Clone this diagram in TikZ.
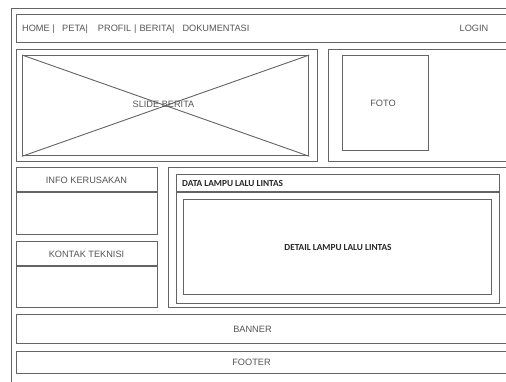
\documentclass[tikz,border=0pt]{standalone}
\usepackage{fontspec}
\setmainfont{Liberation Sans}
\newfontfamily\carl{Carlito}
\definecolor{ln}{RGB}{100,100,100}
\definecolor{tx}{RGB}{85,85,85}
\definecolor{dk}{RGB}{40,40,40}
\tikzset{
  box/.style={draw=ln, line width=1.3pt, inner sep=0pt, anchor=north west},
  lbl/.style={inner sep=0pt, text=tx, font=\fontsize{9.2}{10}\selectfont},
  dlbl/.style={inner sep=0pt, text=dk, font=\carl\bfseries\fontsize{9.3}{10}\selectfont},
}
\newcommand{\bx}[5]{\node[box, minimum width={(#4-#2)*1pt}, minimum height={(#5-#3)*1pt}] (#1) at (#2,#3) {};}
\begin{document}
\begin{tikzpicture}[x=1pt,y=-1pt]
\clip (0,0) rectangle (506,381);
\fill[white] (0,0) rectangle (506,381);
% outer frame
\bx{frame}{10.5}{7.5}{530}{395}
% header
\bx{hdr}{16}{14}{530}{42}
\node[lbl, anchor=base west] (menu) at (22,31) {HOME |\hspace{7.5pt}PETA|\hspace{10pt}PROFIL\hspace{3pt}|\hspace{3pt}BERITA|\hspace{8pt}DOKUMENTASI};
\node[lbl, anchor=base] (login) at (474,31.3) {LOGIN};
% slide
\bx{slideo}{16}{49}{317}{161}
\bx{slidei}{22}{55}{308}{155}
\draw[ln, line width=0.9pt] (slidei.north west) -- (slidei.south east);
\draw[ln, line width=0.9pt] (slidei.south west) -- (slidei.north east);
\node[lbl] (slide) at (163.5,104.5) {SLIDE BERITA};
% foto
\bx{fotoo}{328}{49}{530}{161}
\bx{fotoi}{341.5}{55}{428}{150}
\node[lbl] (foto) at (383,103) {FOTO};
% info kerusakan
\bx{info}{16}{167}{157}{234}
\draw[ln, line width=1.3pt] (info.west |- 0,192) -- (info.east |- 0,192);
\node[lbl] (infot) at (86.5,180) {INFO KERUSAKAN};
% kontak teknisi
\bx{kontak}{16}{241}{157}{307}
\draw[ln, line width=1.3pt] (kontak.west |- 0,266) -- (kontak.east |- 0,266);
\node[lbl] (kontakt) at (86.5,254) {KONTAK TEKNISI};
% data lampu
\bx{datao}{168}{167}{530}{307}
\bx{datai}{176}{174}{498.5}{302.5}
\draw[ln, line width=1.3pt] (datai.west |- 0,192) -- (datai.east |- 0,192);
\node[dlbl, anchor=west] (datat) at (182,183.5) {DATA LAMPU LALU LINTAS};
\bx{detail}{183}{199}{491}{294}
\node[dlbl] (detailt) at (338,247) {DETAIL LAMPU LALU LINTAS};
% banner, footer
\bx{banner}{16}{314}{530}{343}
\node[lbl] (bannert) at (252.5,329) {BANNER};
\bx{footer}{16}{350.5}{530}{373}
\node[lbl] (footert) at (251.5,362.5) {FOOTER};
\end{tikzpicture}
\end{document}
